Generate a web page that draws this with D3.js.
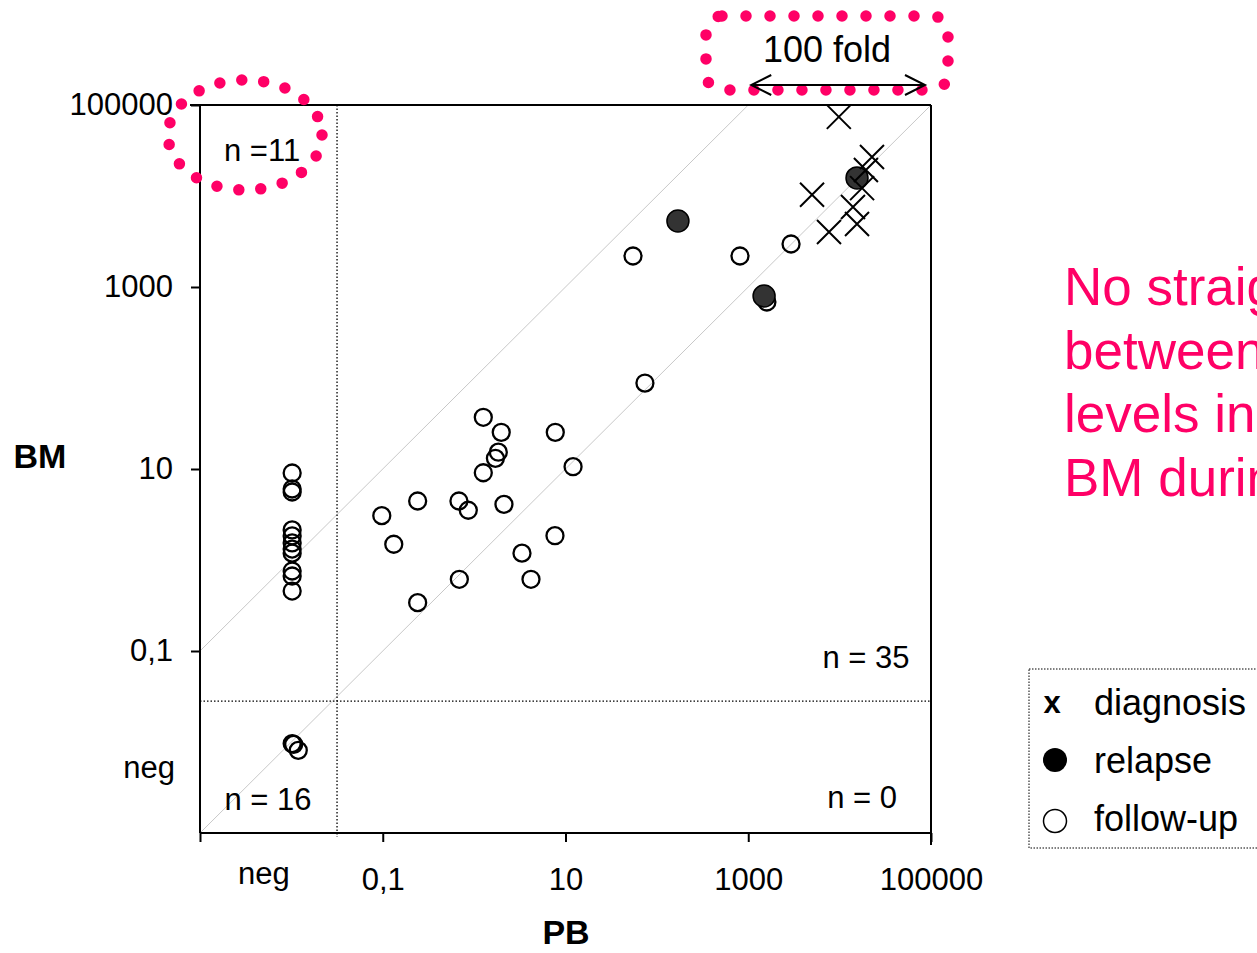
<!DOCTYPE html>
<html>
<head>
<meta charset="utf-8">
<script src="https://cdn.jsdelivr.net/npm/d3@7"></script>
<style>
  html, body { margin: 0; padding: 0; background: #fff; overflow: hidden; }
  svg { display: block; font-family: "Liberation Sans", Arial, sans-serif; }
</style>
</head>
<body>
<svg id="chart" width="1257" height="953"></svg>
<script>
// ---------- data ----------
const xTickValues = [0.001, 0.1, 10, 1000, 100000];
const xTickLabels = ["", "0,1", "10", "1000", "100000"];
const yTickValues = [0.1, 10, 1000, 100000];
const yTickLabels = ["0,1", "10", "1000", "100000"];
const negLabelValue = 0.005;       // where the "neg" label sits
const negCutPB = 0.0316;           // vertical dotted cut-off
const negCutBM = 0.0282;           // horizontal dotted cut-off
const negPos = 0.0102;             // plotted position of "neg" PB

// diagnosis (x markers)
const diagPB = [9800, 22600, 19400, 17600, 4990, 14000, 15500, 7650];
const diagBM = [74000, 26800, 19300, 12200, 10300, 7570, 4920, 4020];

// relapse (filled circles)
const relPB = [15500, 170, 1490];
const relBM = [15800, 5310, 796];

// follow-up (open circles), both positive
const fuPB = [54.8, 812, 2940, 1600, 74, 1.26, 1.98, 7.73, 1.84, 1.71, 1.26, 12.1,
              0.241, 0.682, 0.863, 2.12, 0.0976, 0.132, 7.67, 3.34, 0.689, 4.19, 0.241];
const fuBM = [2190, 2190, 2970, 684, 88, 37.0, 25.3, 25.3, 15.3, 13.1, 9.1, 10.6,
              4.45, 4.45, 3.52, 4.09, 3.07, 1.49, 1.85, 1.19, 0.614, 0.614, 0.340];

// follow-up, PB negative, BM positive
const fuNegPB_BM = [9.04, 6.03, 5.59, 2.14, 1.84, 1.54, 1.32, 1.19, 0.757, 0.667, 0.456];

// follow-up, both negative (plotted positions inside the neg/neg box)
const negBothPB = [0.0102, 0.0106, 0.0119];
const negBothBM = [0.0096, 0.0094, 0.0081];

const quadrantText = ["n =11", "n = 16", "n = 35", "n = 0"];
const quadrantPB = [0.00478, 0.00555, 19400, 17600];
const quadrantBM = [24000, 0.00179, 0.065, 0.00188];

const legendItems = ["diagnosis", "relapse", "follow-up"];
const noteLines = ["No straight", "between", "levels in", "BM during"];

// ---------- drawing ----------
const pink = "#FF0066";
const svg = d3.select("#chart");
const x = d3.scaleLog().domain([0.001, 100000]).range([200, 931]);
const y = d3.scaleLog().domain([0.001, 100000]).range([833, 105]);

// diagonals
const diag = svg.append("g").attr("stroke", "#c8c8c8").attr("stroke-width", 1).attr("fill", "none");
diag.append("line").attr("x1", x(0.001)).attr("y1", y(0.001)).attr("x2", x(100000)).attr("y2", y(100000));
diag.append("line").attr("x1", x(0.001)).attr("y1", y(0.1)).attr("x2", x(1000)).attr("y2", y(100000));

// dotted cut-off lines
svg.append("line").attr("x1", x(negCutPB)).attr("x2", x(negCutPB)).attr("y1", y(100000)).attr("y2", y(0.001) + 4)
  .attr("stroke", "#000").attr("stroke-width", 1.3).attr("stroke-dasharray", "1.5,2");
svg.append("line").attr("x1", x(0.001)).attr("x2", x(100000)).attr("y1", y(negCutBM)).attr("y2", y(negCutBM))
  .attr("stroke", "#000").attr("stroke-width", 1.3).attr("stroke-dasharray", "1.5,2");

// frame: top and right
svg.append("line").attr("x1", x(0.001) - 10).attr("x2", x(100000)).attr("y1", y(100000)).attr("y2", y(100000))
  .attr("stroke", "#000").attr("stroke-width", 2);
svg.append("line").attr("x1", x(100000)).attr("x2", x(100000)).attr("y1", y(100000)).attr("y2", y(0.001) + 12)
  .attr("stroke", "#000").attr("stroke-width", 2);

// x axis
const xAxis = svg.append("g").attr("transform", `translate(0,${y(0.001)})`)
  .call(d3.axisBottom(x).tickValues(xTickValues).tickFormat((d, i) => xTickLabels[i]).tickSize(9).tickPadding(26));
xAxis.select(".domain").attr("stroke-width", 2).attr("d", `M${x(0.001)},0H${x(100000)}`);
xAxis.selectAll(".tick line").attr("stroke-width", 2);
xAxis.selectAll(".tick text").attr("font-size", 31).attr("fill", "#000").attr("font-family", "Liberation Sans, Arial, sans-serif");
svg.append("text").attr("x", x(negLabelValue)).attr("y", 884).attr("text-anchor", "middle")
  .attr("font-size", 31).text("neg");

// y axis
const yAxis = svg.append("g").attr("transform", `translate(${x(0.001)},0)`)
  .call(d3.axisLeft(y).tickValues(yTickValues).tickFormat((d, i) => yTickLabels[i]).tickSize(9).tickPadding(18));
yAxis.select(".domain").attr("stroke-width", 2).attr("d", `M0,${y(0.001)}V${y(100000)}`);
yAxis.selectAll(".tick line").attr("stroke-width", 2);
yAxis.selectAll(".tick text").attr("font-size", 31).attr("fill", "#000").attr("font-family", "Liberation Sans, Arial, sans-serif");
svg.append("text").attr("x", 175).attr("y", y(negLabelValue) + 9).attr("text-anchor", "end")
  .attr("font-size", 31).text("neg");

// axis titles
svg.append("text").attr("x", 40).attr("y", 468).attr("text-anchor", "middle").attr("font-size", 34)
  .attr("font-weight", "bold").text("BM");
svg.append("text").attr("x", 566).attr("y", 944).attr("text-anchor", "middle").attr("font-size", 34)
  .attr("font-weight", "bold").text("PB");

// follow-up open circles
const open = svg.append("g").attr("fill", "none").attr("stroke", "#000").attr("stroke-width", 2.3);
fuPB.forEach((v, i) => open.append("circle").attr("cx", x(v)).attr("cy", y(fuBM[i])).attr("r", 8.5));
fuNegPB_BM.forEach(v => open.append("circle").attr("cx", x(negPos)).attr("cy", y(v)).attr("r", 8.5));
negBothPB.forEach((v, i) => open.append("circle").attr("cx", x(v)).attr("cy", y(negBothBM[i])).attr("r", 8.5));

// relapse filled circles
relPB.forEach((v, i) => svg.append("circle").attr("cx", x(v)).attr("cy", y(relBM[i])).attr("r", 11)
  .attr("fill", "#333").attr("stroke", "#000").attr("stroke-width", 1.5));

// diagnosis crosses
const cr = svg.append("g").attr("stroke", "#000").attr("stroke-width", 2).attr("fill", "none");
diagPB.forEach((v, i) => {
  const cx = x(v), cy = y(diagBM[i]), s = 12;
  cr.append("path").attr("d", `M${cx - s},${cy - s}L${cx + s},${cy + s}M${cx - s},${cy + s}L${cx + s},${cy - s}`);
});

// quadrant counts
quadrantText.forEach((t, i) => svg.append("text").attr("x", x(quadrantPB[i])).attr("y", y(quadrantBM[i]))
  .attr("text-anchor", "middle").attr("font-size", 31).text(t));

// pink dotted ellipse around n=11
svg.append("ellipse").attr("cx", 245).attr("cy", 135).attr("rx", 77).attr("ry", 55)
  .attr("fill", "none").attr("stroke", pink).attr("stroke-width", 11.5).attr("stroke-linecap", "round")
  .attr("stroke-dasharray", "0 22.1");

// pink dotted rounded rect with "100 fold"
svg.append("rect").attr("x", 706).attr("y", 16).attr("width", 242).attr("height", 74).attr("rx", 16)
  .attr("fill", "none").attr("stroke", pink).attr("stroke-width", 11.5).attr("stroke-linecap", "round")
  .attr("stroke-dasharray", "0 24");
svg.append("text").attr("x", 827).attr("y", 62).attr("text-anchor", "middle").attr("font-size", 36).text("100 fold");
const ay = 85, ax1 = x(1000) + 3, ax2 = x(100000) - 6;
svg.append("path").attr("d", `M${ax1},${ay}H${ax2}M${ax1 + 20},${ay - 10}L${ax1},${ay}L${ax1 + 20},${ay + 10}M${ax2 - 20},${ay - 10}L${ax2},${ay}L${ax2 - 20},${ay + 10}`)
  .attr("fill", "none").attr("stroke", "#000").attr("stroke-width", 2);

// pink note
noteLines.forEach((t, i) => svg.append("text").attr("x", 1064).attr("y", 305 + i * 63.5)
  .attr("font-size", 53).attr("fill", pink).text(t));

// legend
svg.append("rect").attr("x", 1029).attr("y", 669).attr("width", 260).attr("height", 179)
  .attr("fill", "none").attr("stroke", "#000").attr("stroke-width", 1).attr("stroke-dasharray", "1.5,1.5");
svg.append("text").attr("x", 1052).attr("y", 713).attr("text-anchor", "middle").attr("font-size", 31)
  .attr("font-weight", "bold").text("x");
svg.append("circle").attr("cx", 1055).attr("cy", 760).attr("r", 12).attr("fill", "#000");
svg.append("circle").attr("cx", 1055).attr("cy", 821).attr("r", 11.5).attr("fill", "none").attr("stroke", "#000").attr("stroke-width", 1.5);
legendItems.forEach((t, i) => svg.append("text").attr("x", 1094).attr("y", 715 + i * 58)
  .attr("font-size", 36).text(t));
</script>
</body>
</html>
